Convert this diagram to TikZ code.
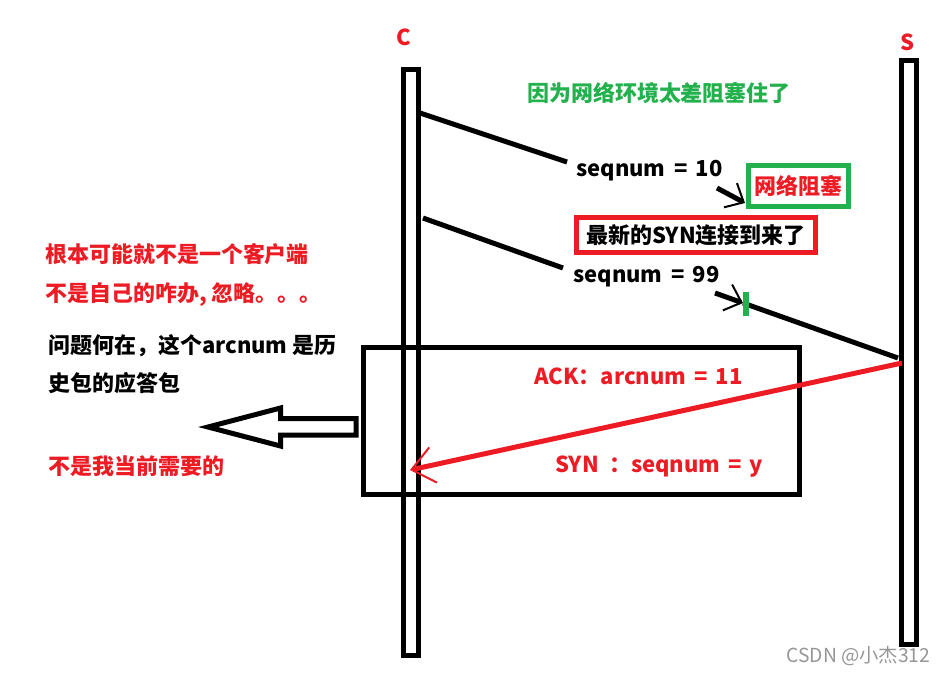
\documentclass[tikz,border=0pt]{standalone}
\usepackage{fontspec}
\setmainfont{Noto Sans CJK SC}
\usetikzlibrary{arrows.meta, positioning}

\definecolor{paintred}{RGB}{237,28,36}
\definecolor{paintgreen}{RGB}{34,177,76}
\definecolor{markgray}{RGB}{150,150,150}

\begin{document}
\begin{tikzpicture}[
    x=0.02cm, y=-0.02cm,
    lifeline/.style={draw, rectangle, line width=0.1cm, minimum width=0.3cm, inner sep=0pt},
    note/.style={anchor=west, inner sep=0pt, font=\fontsize{12.5}{15}\selectfont\bfseries},
    frame/.style={draw, rectangle, line width=0.1cm, inner sep=0pt, font=\fontsize{12.5}{15}\selectfont\bfseries},
    msg/.style={line width=0.1cm},
    smallbarb/.style={-{Straight Barb[length=0.3cm, width=0.55cm, line width=0.04cm]}},
    bigbarb/.style={-{Straight Barb[length=0.44cm, width=0.72cm, line width=0.04cm]}}
]
    \useasboundingbox (0,0) rectangle (947,674);

    % Lifelines
    \node[lifeline, minimum height=11.72cm] (cbar) at (411,362.5) {};
    \node[lifeline, minimum height=11.68cm] (sbar) at (909,352.5) {};
    \node[note, anchor=center, text=paintred] (clabel) at (404,37) {C};
    \node[note, anchor=center, text=paintred] (slabel) at (908,42) {S};

    % Nodes
    \node[note, anchor=center, text=paintgreen] (title) at (659,93) {因为网络环境太差阻塞住了};
    \node[note] (seq10) at (576,171) {seqnum\hspace{0.07cm} = \hspace{0.07cm}10};
    \node[frame, draw=paintgreen, text=paintred, minimum width=2cm, minimum height=0.82cm] (jam) at (798.5,186) {网络阻塞};
    \node[frame, draw=paintred, minimum width=4.78cm, minimum height=0.7cm] (newsyn) at (696,235) {最新的SYN连接到来了};
    \node[note] (seq99) at (573,277) {seqnum\hspace{0.07cm} = \hspace{0.07cm}99};
    \node[frame, minimum width=8.74cm, minimum height=2.95cm] (ackbox) at (581.5,420.75) {};
    \node[note, text=paintred] (ack) at (534,376) {ACK：arcnum\hspace{0.06cm} = \hspace{0.06cm}11};
    \node[note, text=paintred] (syn) at (555,467) {SYN\hspace{0.1cm} ：seqnum\hspace{0.06cm} = \hspace{0.06cm}y};

    \node[note, text=paintred] (why1) at (45,254) {根本可能就不是一个客户端};
    \node[note, text=paintred] (why2) at (45,295) {不是自己的咋办, 忽略。。。};
    \node[note] (ask1) at (48,346) {问题何在，这个arcnum 是历};
    \node[note] (ask2) at (48,383) {史包的应答包};
    \node[note, text=paintred] (notmine) at (48,466) {不是我当前需要的};

    \node[anchor=west, inner sep=0pt, text=markgray, font=\fontsize{11}{13}\selectfont] (mark) at (786,656) {CSDN @小杰312};

    % Coordinates
    \coordinate (m1s) at (420,113);
    \coordinate (m1e) at (567,162);
    \coordinate (j1s) at (717,188);
    \coordinate (j1e) at (745,203);
    \coordinate (m2s) at (423,218);
    \coordinate (m2e) at (563,268);
    \coordinate (j2s) at (715,293);
    \coordinate (j2e) at (743,303);
    \coordinate (j2r) at (898,358);
    \coordinate (acks) at (902,363);
    \coordinate (acke) at (410,470);

    % Arrows
    \draw[msg] (m1s) -- (m1e);
    \draw[msg, smallbarb] (j1s) -- (j1e);
    \draw[msg] (m2s) -- (m2e);
    \draw[msg] (j2e) -- (j2r);
    \draw[msg, smallbarb] (j2s) -- (j2e);
    \draw[paintgreen, line width=0.12cm] (746,292) -- (746,316);
    \draw[msg, paintred, bigbarb] (acks) -- (acke);

    % Hollow arrow
    \draw[line width=0.1cm, miter limit=10] (356,418.5) -- (280.5,418.5) -- (280.5,408)
        -- (208,427) -- (280.5,446) -- (280.5,435) -- (356,435) -- cycle;
\end{tikzpicture}
\end{document}
